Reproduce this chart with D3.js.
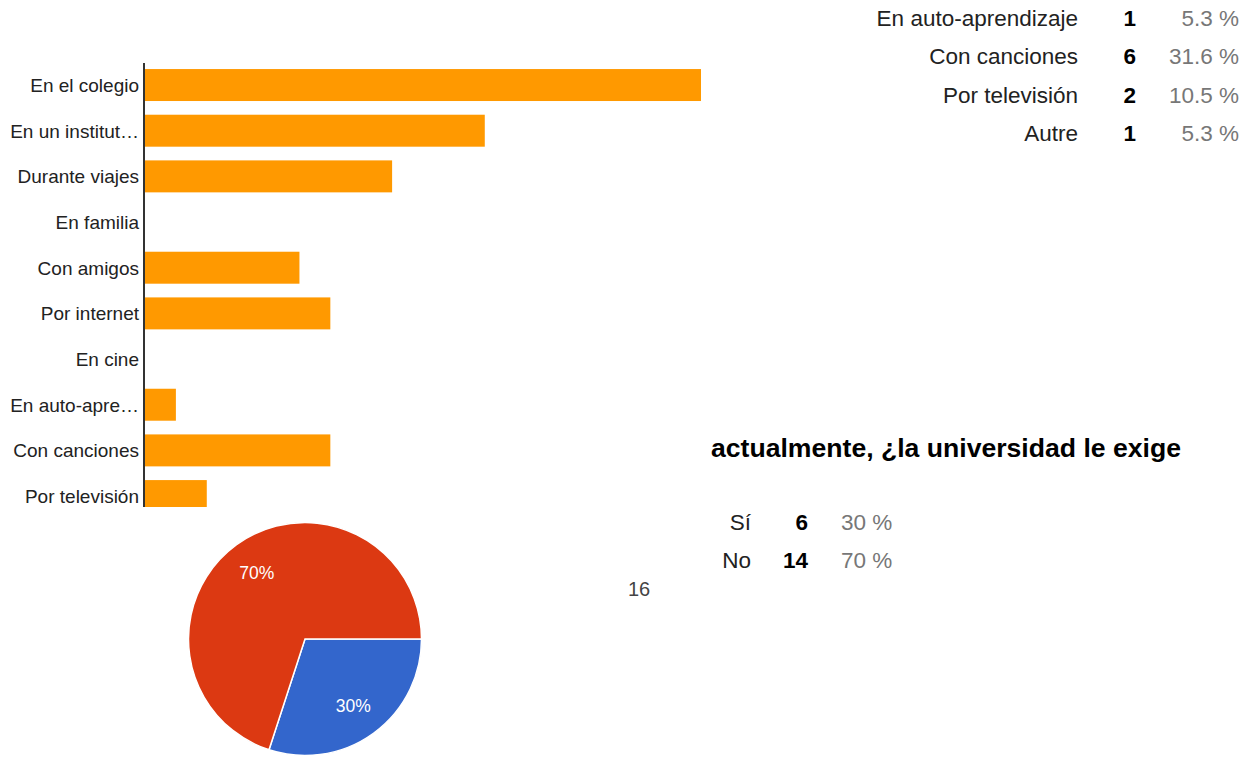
<!DOCTYPE html>
<html><head><meta charset="utf-8">
<script src="https://cdn.jsdelivr.net/npm/d3@7"></script>
<style>
html,body{margin:0;padding:0;background:#fff;}
svg{display:block;font-family:"Liberation Sans",Arial,sans-serif;}
</style></head>
<body><svg id="c" width="1250" height="757"></svg>
<script>
// ---- data ----
const barCategories = ["En el colegio","En un instituto","Durante viajes","En familia","Con amigos","Por internet","En cine","En auto-aprendizaje","Con canciones","Por televisión","Autre"];
const barLabels = ["En el colegio","En un institut\u2026","Durante viajes","En familia","Con amigos","Por internet","En cine","En auto-apre\u2026","Con canciones","Por televisión","Autre"];
const barValues = [18,11,8,0,5,6,0,1,6,2,1];
const tableNames = ["En auto-aprendizaje","Con canciones","Por televisión","Autre"];
const tableCounts = [1,6,2,1];
const tablePercents = ["5.3 %","31.6 %","10.5 %","5.3 %"];
const pieTitle = "actualmente, ¿la universidad le exige";
const pieCategories = ["Sí","No"];
const pieValues = [6,14];
const piePercents = ["30 %","70 %"];
const pieColors = ["#3366cc","#dc3912"];
const strayLabel = "16";

const svg = d3.select("#c");

// ---- bar chart ----
svg.append("defs").append("clipPath").attr("id","barclip")
  .append("rect").attr("x",0).attr("y",0).attr("width",760).attr("height",507);
const gBar = svg.append("g").attr("clip-path","url(#barclip)");
const y = d3.scaleBand().domain(barCategories).range([62.2, 62.2 + 45.67*barCategories.length]).paddingInner(0.3).paddingOuter(0.15);
const x = d3.scaleLinear().domain([0,18]).range([145,701]);
gBar.selectAll("rect.bar").data(barCategories).join("rect").attr("class","bar")
  .attr("x",x(0)).attr("y",d=>y(d)).attr("height",y.bandwidth())
  .attr("width",(d,i)=>x(barValues[i])-x(0)).attr("fill","#ff9900");
const yAxis = d3.axisLeft(y).tickSize(0).tickPadding(5).tickFormat((d,i)=>barLabels[i]);
const ax = gBar.append("g").attr("transform","translate(144,0)").call(yAxis);
ax.select(".domain").attr("stroke","#333").attr("stroke-width",2).attr("d","M0,63V507");
ax.selectAll("text").attr("font-size","19px").attr("fill","#222").attr("dy","0.36em").attr("font-family","Liberation Sans, Arial, sans-serif");

// ---- top-right table ----
const gT = svg.append("g").attr("font-size","22.5px");
tableNames.forEach((n,i)=>{
  const yy = 26 + i*38.3;
  gT.append("text").attr("x",1078).attr("y",yy).attr("text-anchor","end").attr("fill","#222").text(n);
  gT.append("text").attr("x",1136).attr("y",yy).attr("text-anchor","end").attr("font-weight","bold").attr("fill","#000").text(tableCounts[i]);
  gT.append("text").attr("x",1239).attr("y",yy).attr("text-anchor","end").attr("fill","#777").text(tablePercents[i]);
});

// ---- pie title & table ----
svg.append("text").attr("x",711).attr("y",457).attr("font-size","26.6px").attr("font-weight","bold").attr("fill","#000").text(pieTitle);
pieCategories.forEach((n,i)=>{
  const yy = 530 + i*38.3;
  svg.append("text").attr("x",751).attr("y",yy).attr("text-anchor","end").attr("font-size","22.5px").attr("fill","#222").text(n);
  svg.append("text").attr("x",808).attr("y",yy).attr("text-anchor","end").attr("font-size","22.5px").attr("font-weight","bold").attr("fill","#000").text(pieValues[i]);
  svg.append("text").attr("x",841).attr("y",yy).attr("font-size","22.5px").attr("fill","#777").text(piePercents[i]);
});
svg.append("text").attr("x",639).attr("y",596).attr("text-anchor","middle").attr("font-size","20px").attr("fill","#444").text(strayLabel);

// ---- pie ----
const total = d3.sum(pieValues);
const pie = d3.pie().sort(null).startAngle(Math.PI/2).endAngle(Math.PI/2 + 2*Math.PI)(pieValues);
const arc = d3.arc().innerRadius(0).outerRadius(116.5);
const labelArc = d3.arc().innerRadius(82).outerRadius(82);
const gP = svg.append("g").attr("transform","translate(305,639)");
gP.selectAll("path").data(pie).join("path").attr("d",arc)
  .attr("fill",(d,i)=>pieColors[i]).attr("stroke","#fff").attr("stroke-width",1.5);
gP.selectAll("text").data(pie).join("text")
  .attr("transform",d=>`translate(${labelArc.centroid(d)})`)
  .attr("text-anchor","middle").attr("dy","0.36em").attr("font-size","17.5px").attr("fill","#fff")
  .text(d=>Math.round(d.data/total*100)+"%");
</script></body></html>
